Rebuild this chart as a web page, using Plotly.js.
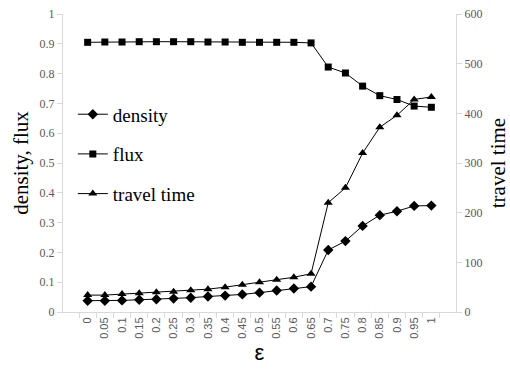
<!DOCTYPE html>
<html>
<head>
<meta charset="utf-8">
<script src="https://cdn.plot.ly/plotly-3.0.1.min.js"></script>
<style>html,body{margin:0;padding:0;background:#fff;}#chart{width:510px;height:369px;}</style>
</head>
<body>
<div id="chart"></div>
<script>
const epsilon = ["0","0.05","0.1","0.15","0.2","0.25","0.3","0.35","0.4","0.45","0.5","0.55","0.6","0.65","0.7","0.75","0.8","0.85","0.9","0.95","1"];
const density = [0.038,0.038,0.039,0.041,0.043,0.045,0.048,0.052,0.055,0.059,0.065,0.072,0.079,0.085,0.208,0.238,0.289,0.325,0.338,0.356,0.357];
const flux = [0.905,0.906,0.906,0.907,0.907,0.907,0.907,0.906,0.906,0.905,0.905,0.905,0.905,0.903,0.822,0.802,0.758,0.726,0.713,0.691,0.687];
const travelTime = [34,34,36,38,40,41,44,46,50,55,60,65,70,77,220,250,320,372,396,428,433];

const serif = "Liberation Serif";
const sans = "Liberation Sans";
const tickGray = "#595959";
const axisGray = "#d9d9d9";

const traces = [
  {x: epsilon, y: density, name: "density", type: "scatter", mode: "lines+markers",
   line: {color: "#000", width: 1}, marker: {symbol: "diamond", size: 8, color: "#000"},
   legendgroup: "a"},
  {x: epsilon, y: flux, name: "flux", type: "scatter", mode: "lines+markers",
   line: {color: "#000", width: 1}, marker: {symbol: "square", size: 7, color: "#000"},
   legendgroup: "b"},
  {x: epsilon, y: travelTime, name: "travel time", type: "scatter", mode: "lines+markers",
   yaxis: "y2", line: {color: "#000", width: 1}, marker: {symbol: "triangle-up", size: 8, color: "#000"},
   legendgroup: "c"}
];

const layout = {
  width: 510, height: 369,
  margin: {l: 63, r: 54, t: 14, b: 57, pad: 0},
  paper_bgcolor: "#fff", plot_bgcolor: "#fff",
  showlegend: true,
  legend: {x: 0.025, y: 0.727, xanchor: "left", yanchor: "top", bgcolor: "rgba(0,0,0,0)",
           font: {family: serif, size: 19, color: "#000"}, tracegroupgap: 12, itemwidth: 30},
  xaxis: {type: "category", tickson: "boundaries", ticks: "outside", ticklen: 5, tickcolor: axisGray,
          tickangle: -90, showline: true, linecolor: axisGray, showgrid: false, zeroline: false,
          tickfont: {family: sans, size: 11, color: tickGray},
          title: {text: "ε", font: {family: sans, size: 22, color: "#000"}, standoff: 6}},
  yaxis: {range: [0, 1], dtick: 0.1, ticks: "outside", ticklen: 5, tickcolor: axisGray,
          showline: true, linecolor: axisGray, showgrid: false, zeroline: false,
          tickfont: {family: serif, size: 12, color: tickGray},
          title: {text: "density, flux", font: {family: serif, size: 21, color: "#000"}, standoff: 5}},
  yaxis2: {range: [0, 600], dtick: 100, overlaying: "y", side: "right", ticks: "outside", ticklen: 5,
           tickcolor: axisGray, showline: true, linecolor: axisGray, showgrid: false, zeroline: false,
           tickfont: {family: serif, size: 12, color: tickGray},
           title: {text: "travel time", font: {family: serif, size: 21, color: "#000"}, standoff: 10}}
};

Plotly.newPlot("chart", traces, layout, {displayModeBar: false, staticPlot: true});
</script>
</body>
</html>
